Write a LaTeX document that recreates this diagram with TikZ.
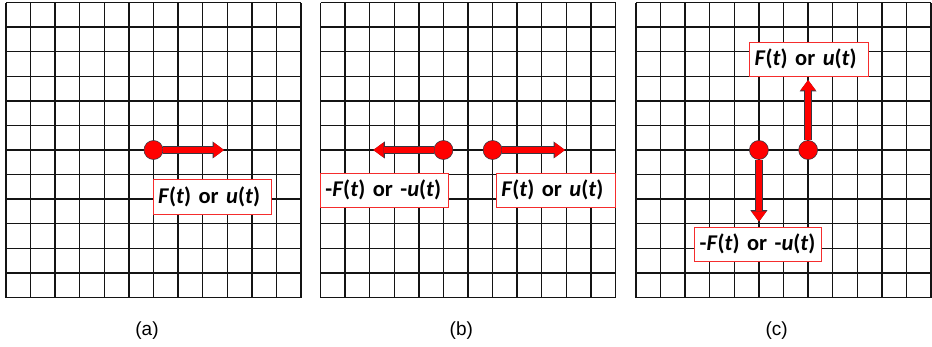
\documentclass[tikz,border=0pt]{standalone}
\usepackage{fontspec}
\setmainfont{Carlito}
\newfontfamily\capfont{Liberation Sans}
\usepackage{tikz}
\usetikzlibrary{arrows.meta, positioning}
\definecolor{forceRed}{RGB}{255,0,0}
\definecolor{edgeGray}{RGB}{55,55,65}
\definecolor{boxRed}{RGB}{245,45,45}
\newcommand{\fut}{\textit{F}(\textit{t}) or \textit{u}(\textit{t})}
\newcommand{\negfut}{-\textit{F}(\textit{t}) or -\textit{u}(\textit{t})}

\begin{document}
\begin{tikzpicture}[x=1pt,y=1pt,
    gridln/.style={line width=1.35pt, draw=black!92},
    pt/.style={circle, fill=forceRed, draw=edgeGray, line width=0.6pt, minimum size=19pt, inner sep=0pt},
    fout/.style={draw=edgeGray, line width=7.4pt, -{Triangle[length=11.5pt,width=17pt,line width=0pt]}},
    fin/.style={draw=forceRed, line width=6.2pt, -{Triangle[length=10.4pt,width=15.4pt,line width=0pt]}},
    lbl/.style={draw=boxRed, fill=white, line width=0.8pt, inner xsep=5pt, text width=#1, align=left,
      minimum height=34.5pt, anchor=west, font=\fontsize{22.5}{26}\selectfont\bfseries},
    lbl/.default=108.5pt,
    captxt/.style={font=\capfont\fontsize{19}{22}\selectfont}]
  \useasboundingbox (0,0) rectangle (932,346);
  % Grids
  \foreach \gx in {6,320.5,636}
    \draw[gridln, shift={(\gx,48.5)}, x=24.583pt, y=24.583pt, step=1] (0,0) grid (12,12);

  % (a) one point, force to the right
  \node[pt] (pa) at (153.5,196) {};
  \coordinate (pa tip) at (224,196);
  \draw[fout] (pa) -- (pa tip);
  \draw[fin] (pa) -- (pa tip);
  \node[lbl] (la) at (152.7,149.3) {\fut};

  % (b) two points, opposite horizontal forces
  \node[pt] (pb1) at (443.4,196) {};
  \node[pt] (pb2) at (492.6,196) {};
  \coordinate (pb1 tip) at (373.3,196);
  \coordinate (pb2 tip) at (565,196);
  \foreach \p in {pb1,pb2} {
    \draw[fout] (\p) -- (\p\space tip);
    \draw[fin] (\p) -- (\p\space tip);
  }
  \node[lbl=117.5pt] (lb1) at (320,155.7) {\negfut};
  \node[lbl] (lb2) at (496,155.7) {\fut};

  % (c) two points, opposite vertical forces
  \node[pt] (pc1) at (758.9,196) {};
  \node[pt] (pc2) at (808.1,196) {};
  \coordinate (pc1 tip) at (758.9,124.3);
  \coordinate (pc2 tip) at (808.1,266);
  \foreach \p in {pc1,pc2} {
    \draw[fout] (\p) -- (\p\space tip);
    \draw[fin] (\p) -- (\p\space tip);
  }
  \node[lbl] (lc2) at (749.3,286.8) {\fut};
  \node[lbl=117pt] (lc1) at (694.3,101.7) {\negfut};

  % Captions
  \node[captxt] (ca) at (147,15) {(a)};
  \node[captxt] (cb) at (461.3,15) {(b)};
  \node[captxt] (cc) at (776.7,15) {(c)};
\end{tikzpicture}
\end{document}
